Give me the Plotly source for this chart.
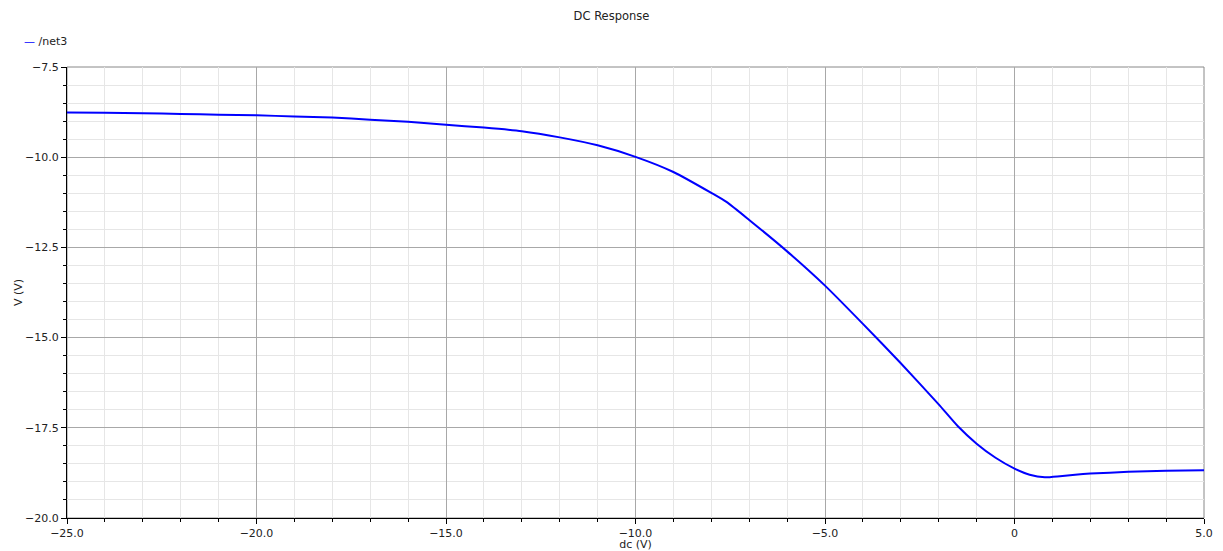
import plotly.graph_objects as go

# Data
dc_v = [-25, -24, -23, -22, -21, -20, -19, -18, -17, -16, -15, -14, -13, -12, -11,
        -10, -9, -8, -7.6, -7, -6, -5, -4, -3, -2, -1.5, -1, -0.5, 0, 0.4, 0.8,
        1.2, 1.6, 2, 3, 4, 5]
net3_v = [-8.76, -8.77, -8.78, -8.80, -8.82, -8.84, -8.87, -8.90, -8.96, -9.02, -9.10,
          -9.18, -9.28, -9.45, -9.67, -9.99, -10.41, -10.99, -11.24, -11.74, -12.61,
          -13.56, -14.62, -15.71, -16.85, -17.45, -17.94, -18.33, -18.63, -18.80,
          -18.87, -18.84, -18.80, -18.77, -18.72, -18.69, -18.68]

x_tickvals = [-25, -20, -15, -10, -5, 0, 5]
x_ticktext = ["\u221225.0", "\u221220.0", "\u221215.0", "\u221210.0", "\u22125.0", "0", "5.0"]
y_tickvals = [-7.5, -10, -12.5, -15, -17.5, -20]
y_ticktext = ["\u22127.5", "\u221210.0", "\u221212.5", "\u221215.0", "\u221217.5", "\u221220.0"]

FONT = "DejaVu Sans"

fig = go.Figure()
fig.add_trace(go.Scatter(x=dc_v, y=net3_v, mode="lines", name="/net3",
                         line=dict(color="#0000ff", width=2, shape="spline", smoothing=0.6),
                         showlegend=False))

fig.update_layout(
    width=1223, height=551,
    margin=dict(l=67, r=19, t=67, b=33),
    paper_bgcolor="white", plot_bgcolor="white",
    font=dict(family=FONT, size=11, color="#222222"),
    title=dict(text="DC Response", x=0.5, xanchor="center", y=1 - 16 / 551, yanchor="middle",
               font=dict(family=FONT, size=11.5, color="#222222")),
    annotations=[dict(text='<span style="color:#0000ff">\u2014</span> /net3',
                      xref="paper", yref="paper", x=-0.0396, y=1 + 26 / 451,
                      xanchor="left", yanchor="middle", showarrow=False,
                      font=dict(family=FONT, size=11, color="#222222"))],
)

fig.update_xaxes(
    range=[-25, 5], tickvals=x_tickvals, ticktext=x_ticktext,
    showline=True, linecolor="black", linewidth=1, mirror=False,
    ticks="outside", ticklen=5, tickcolor="black",
    showgrid=True, gridcolor="#a8a8a8", gridwidth=1, zeroline=False,
    automargin=False,
    minor=dict(dtick=1, showgrid=True, gridcolor="#e6e6e6", ticks="outside", ticklen=3, tickcolor="black"),
    title=dict(text="dc (V)", standoff=0, font=dict(family=FONT, size=11)),
)
fig.update_yaxes(
    range=[-20, -7.5], tickvals=y_tickvals, ticktext=y_ticktext,
    showline=True, linecolor="black", linewidth=1,
    ticks="outside", ticklen=5, tickcolor="black",
    showgrid=True, gridcolor="#a8a8a8", gridwidth=1, zeroline=False,
    automargin=False,
    minor=dict(dtick=0.5, showgrid=True, gridcolor="#e6e6e6", ticks="outside", ticklen=3, tickcolor="black"),
    title=dict(text="V (V)", standoff=0, font=dict(family=FONT, size=11)),
)
# thin grey border on top and right as in reference
fig.add_shape(type="rect", xref="paper", yref="paper", x0=0, y0=0, x1=1, y1=1,
              line=dict(color="#888888", width=1), layer="below")

fig.write_html("out.html", config={"displayModeBar": False},
               post_script="document.body.style.margin='0';")
